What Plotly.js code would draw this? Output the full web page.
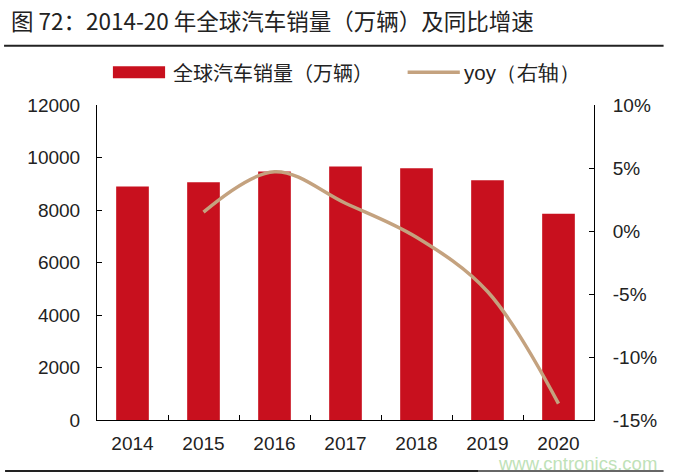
<!DOCTYPE html>
<html>
<head>
<meta charset="utf-8">
<script src="https://cdn.plot.ly/plotly-3.0.1.min.js"></script>
<style>
html,body{margin:0;padding:0;background:#fff;}
#chart{width:678px;height:475px;}
</style>
</head>
<body>
<div id="chart"></div>
<script>
const years = ['2014','2015','2016','2017','2018','2019','2020'];
const sales = [8900, 9060, 9470, 9660, 9590, 9130, 7860];
const yoyYears = ['2015','2016','2017','2018','2019','2020'];
const yoy = [1.5, 4.7, 2.2, -0.5, -4.8, -13.7];
const leftTicks = [0, 2000, 4000, 6000, 8000, 10000, 12000];
const leftTickText = ['0', '2000', '4000', '6000', '8000', '10000', '12000'];
const rightTicks = [-15, -10, -5, 0, 5, 10];
const rightTickText = ['-15%', '-10%', '-5%', '0%', '5%', '10%'];

const titleText = '图 72：2014-20 年全球汽车销量（万辆）及同比增速';
const barName = '全球汽车销量（万辆）';
const lineName = 'yoy（右轴）';

const barColor = '#C8101E';
const lineColor = '#C4A27F';
const numFont = 'Liberation Sans, Arial, sans-serif';
const cjkFont = 'Noto Sans CJK SC, sans-serif';

const traces = [
  {
    type: 'bar', x: years, y: sales, name: barName,
    marker: {color: barColor, line: {width: 0}},
    yaxis: 'y', showlegend: false, hoverinfo: 'skip'
  },
  {
    type: 'scatter', mode: 'lines', x: yoyYears, y: yoy, name: lineName,
    line: {color: lineColor, width: 3.5, shape: 'spline', smoothing: 1.0},
    yaxis: 'y2', showlegend: false, hoverinfo: 'skip'
  }
];

const layout = {
  width: 678, height: 475,
  margin: {l: 97, r: 84, t: 105, b: 55},
  paper_bgcolor: '#fff', plot_bgcolor: '#fff',
  bargap: 0.54,
  xaxis: {
    type: 'category', range: [-0.5, 6.5],
    showline: true, linecolor: '#000', linewidth: 1,
    ticks: 'inside', tickson: 'boundaries', ticklen: 5, tickcolor: '#000',
    tickfont: {family: numFont, size: 19, color: '#222'},
    ticklabelstandoff: 6,
    showgrid: false, zeroline: false, fixedrange: true
  },
  yaxis: {
    range: [0, 12000], tickvals: leftTicks, ticktext: leftTickText,
    showline: true, linecolor: '#000', linewidth: 1,
    ticks: 'inside', ticklen: 5, tickcolor: '#000',
    tickfont: {family: numFont, size: 19, color: '#222'},
    ticklabelstandoff: 12,
    showgrid: false, zeroline: false
  },
  yaxis2: {
    overlaying: 'y', side: 'right',
    range: [-15, 10], tickvals: rightTicks, ticktext: rightTickText,
    showline: true, linecolor: '#000', linewidth: 1,
    ticks: 'inside', ticklen: 5, tickcolor: '#000',
    tickfont: {family: numFont, size: 19, color: '#222'},
    ticklabelstandoff: 14,
    showgrid: false, zeroline: false
  },
  shapes: [
    {type: 'line', xref: 'paper', yref: 'paper', x0: -0.187, x1: 1.14, y0: 1.188, y1: 1.188,
     line: {color: '#222', width: 2}},
    {type: 'line', xref: 'paper', yref: 'paper', x0: -0.185, x1: 0.768, y0: -0.162, y1: -0.162,
     line: {color: '#222', width: 2}},
    {type: 'line', xref: 'paper', yref: 'paper', x0: 0.768, x1: 1.14, y0: -0.162, y1: -0.162,
     line: {color: '#666', width: 2}},
    {type: 'rect', xref: 'paper', yref: 'paper', x0: 0.032, x1: 0.137, y0: 1.085, y1: 1.123,
     fillcolor: barColor, line: {width: 0}},
    {type: 'line', xref: 'paper', yref: 'paper', x0: 0.625, x1: 0.73, y0: 1.104, y1: 1.104,
     line: {color: lineColor, width: 3.5}}
  ],
  annotations: [
    {text: titleText, xref: 'paper', yref: 'paper', x: -0.177, y: 1.27,
     xanchor: 'left', yanchor: 'middle', showarrow: false,
     font: {family: cjkFont, size: 22.5, color: '#222'}},
    {text: barName, xref: 'paper', yref: 'paper', x: 0.148, y: 1.104,
     xanchor: 'left', yanchor: 'middle', showarrow: false,
     font: {family: cjkFont, size: 20, color: '#222'}},
    {text: lineName, xref: 'paper', yref: 'paper', x: 0.734, y: 1.104,
     xanchor: 'left', yanchor: 'middle', showarrow: false,
     font: {family: numFont, size: 20.5, color: '#222'}},
    {text: 'www.cntronics.com', xref: 'paper', yref: 'paper', x: 1.13, y: -0.137,
     xanchor: 'right', yanchor: 'middle', showarrow: false,
     font: {family: numFont, size: 18.5, color: '#BFE2B8'}}
  ]
};

Plotly.newPlot('chart', traces, layout, {displayModeBar: false, staticPlot: true});
</script>
</body>
</html>
